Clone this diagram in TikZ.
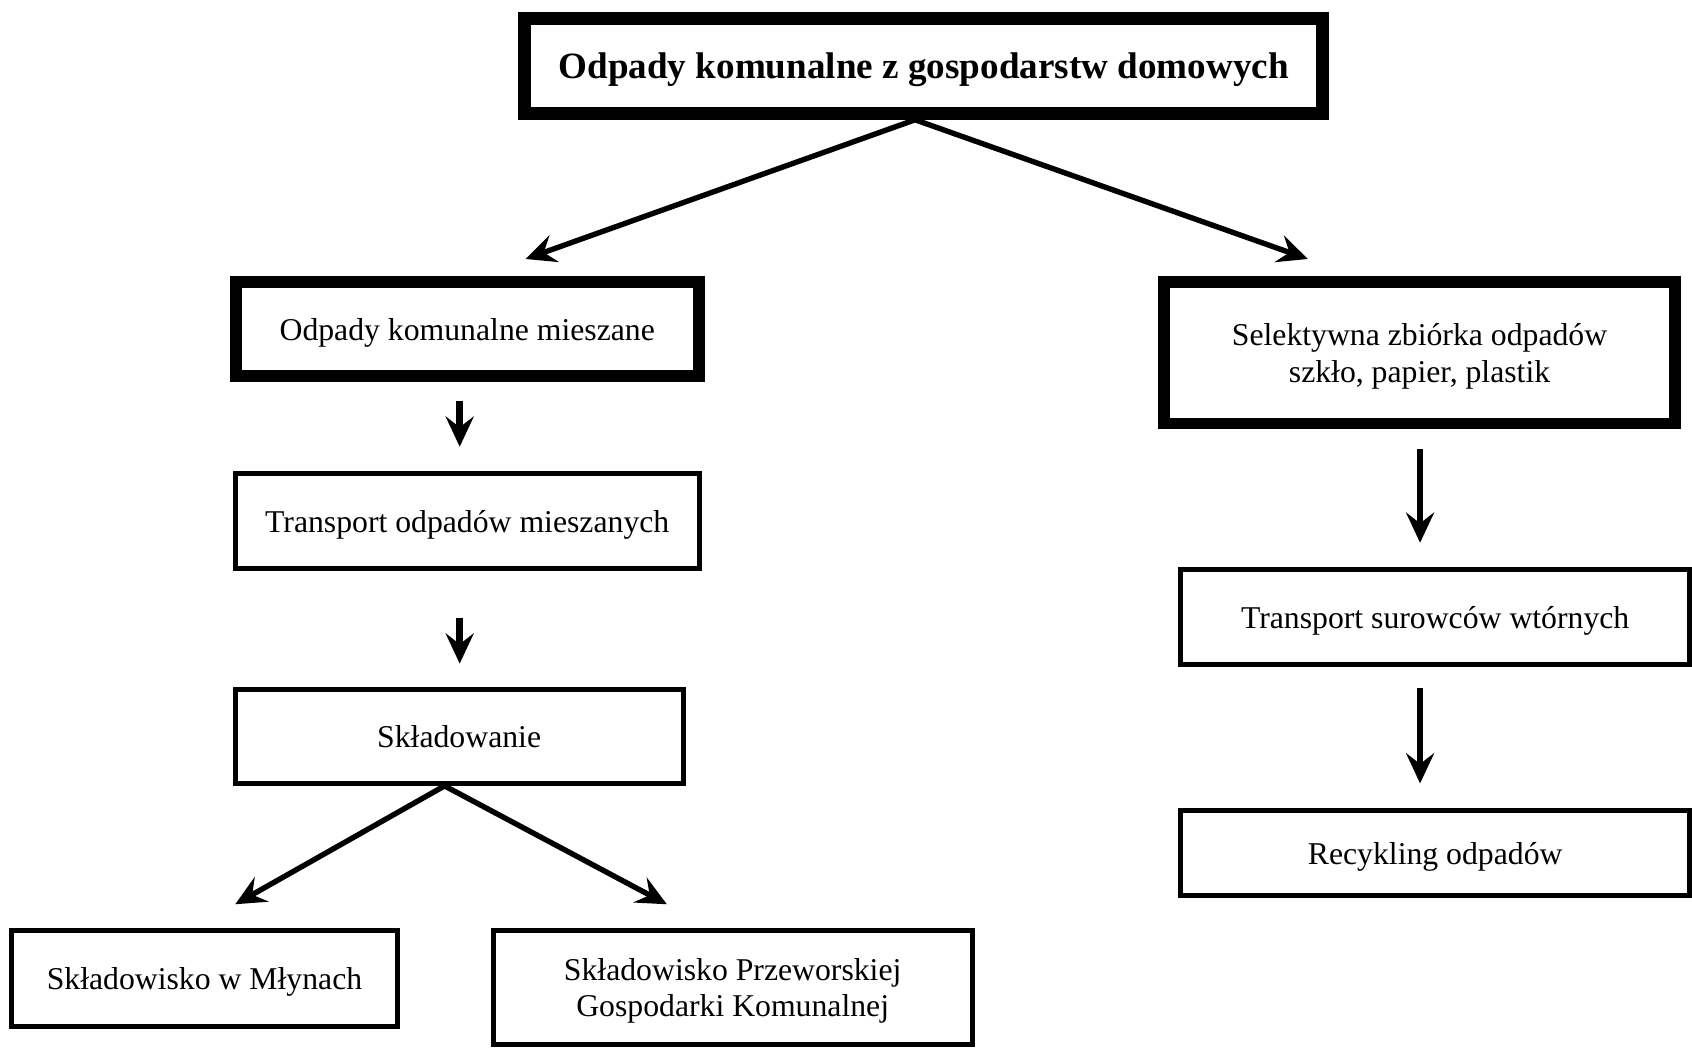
\documentclass[tikz,border=0pt]{standalone}
\usepackage{fontspec}
\setmainfont{Liberation Serif}
\usetikzlibrary{arrows.meta}
\begin{document}
\begin{tikzpicture}[x=0.5pt,y=-0.5pt,
  box/.style={draw, rectangle, align=center, inner sep=0pt, text depth=0pt, font=\fontsize{14.7}{17}\selectfont},
  thickbox/.style={box, line width=5.5pt},
  thinbox/.style={box, line width=2.3pt},
  tipstyle/.style={-{Stealth[length=14pt,width=13pt,inset=5pt]}},
  flow/.style={line width=2.5pt, tipstyle},
  vflow/.style={line width=3pt, tipstyle}]
\useasboundingbox (0,0) rectangle (1568,972);

\node[box, line width=6pt, minimum width=370pt, minimum height=44pt,
      font=\fontsize{17.2}{20}\selectfont\bfseries] (top) at (856,61)
      {Odpady komunalne z gospodarstw domowych};

\node[thickbox, minimum width=214.5pt, minimum height=43.5pt] (mix) at (433,305)
      {Odpady komunalne mieszane};
\node[thinbox, minimum width=215pt, minimum height=44pt] (trm) at (433,483)
      {Transport odpadów mieszanych};
\node[thinbox, minimum width=207.5pt, minimum height=43.5pt] (skl) at (425.5,682.5)
      {Składowanie};
\node[thinbox, minimum width=178.5pt, minimum height=44.5pt] (mly) at (189.5,906.5)
      {Składowisko w Młynach};
\node[thinbox, minimum width=222pt, minimum height=53pt] (pgk) at (679,915)
      {Składowisko Przeworskiej\\Gospodarki Komunalnej};

\node[thickbox, minimum width=237pt, minimum height=65.5pt] (sel) at (1315.5,327)
      {Selektywna zbiórka odpadów\\szkło, papier, plastik};
\node[thinbox, minimum width=236pt, minimum height=44pt] (trs) at (1330,572)
      {Transport surowców wtórnych};
\node[thinbox, minimum width=236pt, minimum height=39.5pt] (rec) at (1330,790.5)
      {Recykling odpadów};

\coordinate (tA) at (487,240);
\coordinate (tB) at (1212,240);
\coordinate (tC) at (218,838);
\coordinate (tD) at (618,838);
\coordinate (v1s) at (426,372);
\coordinate (v1e) at (426,414);
\coordinate (v2s) at (426,573);
\coordinate (v2e) at (426,615);
\coordinate (v3s) at (1316,416);
\coordinate (v3e) at (1316,503);
\coordinate (v4s) at (1316,638);
\coordinate (v4e) at (1316,726);

\draw[flow] ([xshift=-4pt]top.south) -- (tA);
\draw[flow] ([xshift=-4pt]top.south) -- (tB);
\draw[flow] ([xshift=-6.75pt]skl.south) -- (tC);
\draw[flow] ([xshift=-6.75pt]skl.south) -- (tD);
\draw[vflow] (v1s) -- (v1e);
\draw[vflow] (v2s) -- (v2e);
\draw[vflow] (v3s) -- (v3e);
\draw[vflow] (v4s) -- (v4e);
\end{tikzpicture}
\end{document}
